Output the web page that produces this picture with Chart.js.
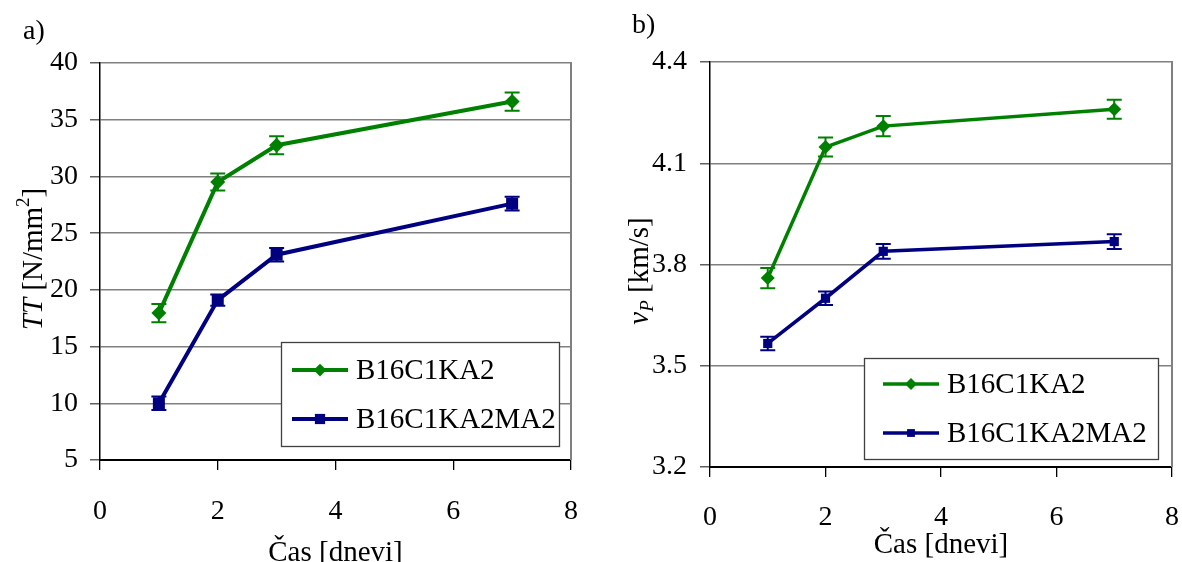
<!DOCTYPE html>
<html>
<head>
<meta charset="utf-8">
<script src="https://cdn.jsdelivr.net/npm/chart.js@4"></script>
<style>
  html, body { margin: 0; padding: 0; background: #fff; overflow: hidden; }
  #wrapA { position: absolute; left: 0; top: 0; width: 600px; height: 590px; }
  #wrapB { position: absolute; left: 600px; top: 0; width: 582px; height: 590px; }
</style>
</head>
<body>
<div id="wrapA"><canvas id="chartA" width="600" height="590"></canvas></div>
<div id="wrapB"><canvas id="chartB" width="582" height="590"></canvas></div>
<script>
// podatki, odčitani s slike
const days = [1, 2, 3, 7];
const seriesNames = ['B16C1KA2', 'B16C1KA2MA2'];

// a) TT [N/mm2]
const ttB16 = [17.95, 29.5, 32.75, 36.6];
const ttB16Err = [0.8, 0.75, 0.8, 0.8];
const ttB16MA2 = [10.0, 19.1, 23.1, 27.6];
const ttB16MA2Err = [0.6, 0.5, 0.6, 0.6];

// b) vP [km/s]
const vpB16 = [3.76, 4.148, 4.21, 4.26];
const vpB16Err = [0.03, 0.028, 0.03, 0.028];
const vpB16MA2 = [3.566, 3.70, 3.839, 3.868];
const vpB16MA2Err = [0.02, 0.02, 0.022, 0.022];

// oznake osi
const xTicks = [0, 2, 4, 6, 8];
const ttTicks = [5, 10, 15, 20, 25, 30, 35, 40];
const vpTicks = [3.2, 3.5, 3.8, 4.1, 4.4];

const GREEN = '#008000';
const NAVY = '#000080';
const FONT = "'Liberation Serif', 'Times New Roman', serif";

Chart.defaults.font.family = FONT;
Chart.defaults.color = '#000';

function pts(vals) {
  return days.map((d, i) => ({ x: d, y: vals[i] }));
}

// oblika točke (romb ali kvadrat)
function mark(ctx, style, r, x, y) {
  ctx.beginPath();
  if (style === 'rectRot') {
    ctx.moveTo(x, y - r); ctx.lineTo(x + r, y); ctx.lineTo(x, y + r); ctx.lineTo(x - r, y);
    ctx.closePath();
  } else {
    const s = r * Math.SQRT1_2;
    ctx.rect(x - s, y - s, 2 * s, 2 * s);
  }
  ctx.fill();
}

// napake (error bars)
const errorBars = {
  id: 'errorBars',
  beforeDatasetsDraw(chart, args, o) {
    const { ctx, scales: { x, y } } = chart;
    ctx.save();
    chart.data.datasets.forEach(ds => {
      ctx.strokeStyle = ds.borderColor;
      ctx.lineWidth = o.width;
      ds.data.forEach((p, j) => {
        const e = ds.errors[j];
        const px = x.getPixelForValue(p.x);
        const y0 = y.getPixelForValue(p.y - e);
        const y1 = y.getPixelForValue(p.y + e);
        ctx.beginPath();
        ctx.moveTo(px, y0); ctx.lineTo(px, y1);
        ctx.moveTo(px - o.cap, y0); ctx.lineTo(px + o.cap, y0);
        ctx.moveTo(px - o.cap, y1); ctx.lineTo(px + o.cap, y1);
        ctx.stroke();
      });
    });
    // desni rob
    const a = chart.chartArea;
    ctx.strokeStyle = '#808080';
    ctx.lineWidth = 2;
    ctx.beginPath();
    ctx.moveTo(a.right, a.top - 1); ctx.lineTo(a.right, a.bottom);
    ctx.stroke();
    ctx.restore();
  }
};

// legenda v okvirju + naslov osi y + oznaka panela
const extras = {
  id: 'extras',
  afterDraw(chart, args, o) {
    const ctx = chart.ctx;
    ctx.save();
    const L = o.legend;
    ctx.fillStyle = '#fff';
    ctx.fillRect(L.x, L.y, L.w, L.h);
    ctx.strokeStyle = '#404040';
    ctx.lineWidth = 1.3;
    ctx.strokeRect(L.x + 0.5, L.y + 0.5, L.w, L.h);
    chart.data.datasets.forEach((ds, i) => {
      const ry = L.rows[i];
      ctx.strokeStyle = ds.borderColor;
      ctx.lineWidth = ds.borderWidth;
      ctx.beginPath();
      ctx.moveTo(L.x0, ry); ctx.lineTo(L.x1, ry);
      ctx.stroke();
      ctx.fillStyle = ds.backgroundColor;
      mark(ctx, ds.pointStyle, ds.pointRadius * L.scale, (L.x0 + L.x1) / 2, ry);
      ctx.fillStyle = '#000';
      ctx.font = '29px ' + FONT;
      ctx.textBaseline = 'middle';
      ctx.textAlign = 'left';
      ctx.fillText(ds.label, L.tx, ry + 1);
    });

    // oznaka a) / b)
    ctx.fillStyle = '#000';
    ctx.font = '28px ' + FONT;
    ctx.textBaseline = 'alphabetic';
    ctx.fillText(o.panel.text, o.panel.x, o.panel.y);

    // naslov osi y, iz delov
    const T = o.yTitle;
    ctx.translate(T.x, T.y);
    ctx.rotate(-Math.PI / 2);
    const parts = T.parts.map(p => {
      const size = p.sub || p.sup ? 19 : 29;
      const f = (p.italic ? 'italic ' : '') + size + 'px ' + FONT;
      ctx.font = f;
      return { ...p, f, w: ctx.measureText(p.t).width };
    });
    let cx = -parts.reduce((s, p) => s + p.w, 0) / 2;
    parts.forEach(p => {
      ctx.font = p.f;
      const dy = p.sup ? -13 : (p.sub ? 5 : 0);
      ctx.fillText(p.t, cx, dy);
      cx += p.w;
    });
    ctx.restore();
  }
};

function makeChart(id, cfg) {
  return new Chart(document.getElementById(id), {
    type: 'line',
    data: {
      datasets: [
        {
          label: seriesNames[0],
          data: pts(cfg.s1),
          errors: cfg.e1,
          borderColor: GREEN,
          backgroundColor: GREEN,
          borderWidth: cfg.lw,
          pointStyle: 'rectRot',
          pointRadius: cfg.r1,
          pointBorderWidth: 0,
          tension: 0
        },
        {
          label: seriesNames[1],
          data: pts(cfg.s2),
          errors: cfg.e2,
          borderColor: NAVY,
          backgroundColor: NAVY,
          borderWidth: cfg.lw,
          pointStyle: 'rect',
          pointRadius: cfg.r2,
          pointBorderWidth: 0,
          tension: 0
        }
      ]
    },
    options: {
      responsive: false,
      animation: false,
      devicePixelRatio: 1,
      layout: { padding: { top: cfg.top, right: cfg.right, left: 0, bottom: 0 } },
      scales: {
        x: {
          type: 'linear',
          min: 0, max: 8,
          afterBuildTicks: s => { s.ticks = xTicks.map(v => ({ value: v })); },
          afterFit: s => { s.height = cfg.xH; s.paddingLeft = 0; s.paddingRight = 0; },
          grid: { drawOnChartArea: false, drawTicks: true, tickLength: 10, tickColor: '#000', lineWidth: 1.3 },
          border: { color: '#000', width: 2 },
          ticks: { font: { size: 28 }, padding: cfg.xPad, maxRotation: 0 },
          title: { display: true, text: 'Čas [dnevi]', font: { size: 29 }, padding: { top: 0, bottom: cfg.titlePad } }
        },
        y: {
          type: 'linear',
          min: cfg.yTicks[0], max: cfg.yTicks[cfg.yTicks.length - 1],
          afterBuildTicks: s => { s.ticks = cfg.yTicks.map(v => ({ value: v })); },
          afterFit: s => { s.width = cfg.yW; s.paddingTop = 0; s.paddingBottom = 0; },
          grid: { color: '#808080', lineWidth: 1.5, tickLength: 10, tickColor: '#606060' },
          border: { color: '#000', width: 1.5 },
          ticks: { font: { size: 28 }, padding: cfg.yPad, callback: cfg.fmt }
        }
      },
      plugins: {
        legend: { display: false },
        tooltip: { enabled: false },
        errorBars: { width: 2, cap: 7.5 },
        extras: { legend: cfg.legend, panel: cfg.panel, yTitle: cfg.yTitle }
      }
    },
    plugins: [errorBars, extras]
  });
}

makeChart('chartA', {
  s1: ttB16, e1: ttB16Err, s2: ttB16MA2, e2: ttB16MA2Err,
  yTicks: ttTicks, fmt: v => String(v),
  lw: 4, r1: 7.5, r2: 8.5,
  top: 63, right: 29, xH: 130, yW: 100,
  xPad: 25, yPad: 12, titlePad: 19,
  legend: { x: 281, y: 342, w: 278, h: 104, rows: [370, 419], x0: 292, x1: 348, tx: 356, scale: 0.85 },
  panel: { text: 'a)', x: 23, y: 39 },
  yTitle: { x: 42, y: 259, parts: [{ t: 'TT', italic: true }, { t: ' [N/mm' }, { t: '2', sup: true }, { t: ']' }] }
});

makeChart('chartB', {
  s1: vpB16, e1: vpB16Err, s2: vpB16MA2, e2: vpB16MA2Err,
  yTicks: vpTicks, fmt: v => v.toFixed(1),
  lw: 3.5, r1: 7, r2: 6.5,
  top: 62, right: 10, xH: 123, yW: 110,
  xPad: 24, yPad: 13, titlePad: 27,
  legend: { x: 264, y: 358, w: 294, h: 101, rows: [384, 433], x0: 283, x1: 339, tx: 347, scale: 0.85 },
  panel: { text: 'b)', x: 32, y: 33 },
  yTitle: { x: 48, y: 271, parts: [{ t: 'v', italic: true }, { t: 'P', italic: true, sub: true }, { t: ' [km/s]' }] }
});
</script>
</body>
</html>
